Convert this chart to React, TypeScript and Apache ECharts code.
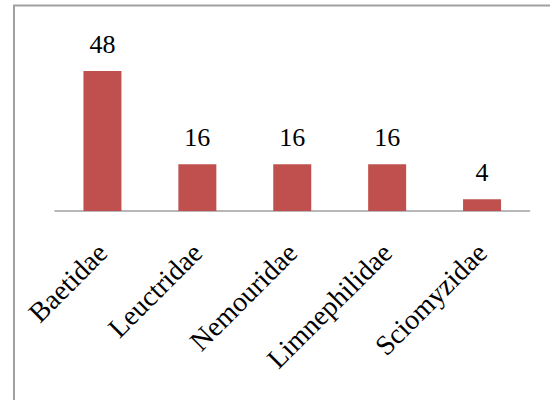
import React, { useEffect, useRef } from "react";
import * as echarts from "echarts";

const categories = ["Baetidae", "Leuctridae", "Nemouridae", "Limnephilidae", "Sciomyzidae"];
const values = [48, 16, 16, 16, 4];

const FONT = "'Times New Roman', 'Liberation Serif', Times, serif";

export default function App() {
  const ref = useRef<HTMLDivElement>(null);
  useEffect(() => {
    if (!ref.current) return;
    const chart = echarts.init(ref.current, null, { renderer: "svg" });
    chart.setOption({
      animation: false,
      backgroundColor: "#ffffff",
      graphic: [
        {
          type: "rect",
          shape: { x: 14, y: 5.5, width: 600, height: 500 },
          style: { fill: "none", stroke: "#a0a0a0", lineWidth: 2 },
          silent: true,
        },
      ],
      grid: { left: 55, right: 20.5, top: 36, bottom: 189, containLabel: false },
      xAxis: {
        type: "category",
        data: categories,
        axisLine: { show: true, lineStyle: { color: "#a0a0a0", width: 1.5 } },
        axisTick: { show: false },
        axisLabel: {
          rotate: 45,
          margin: 37,
          interval: 0,
          fontFamily: FONT,
          fontSize: 28,
          color: "#000000",
        },
      },
      yAxis: { type: "value", min: 0, max: 60, show: false, splitLine: { show: false } },
      series: [
        {
          type: "bar",
          data: values,
          barWidth: 38,
          itemStyle: { color: "#C0504D" },
          label: {
            show: true,
            position: "top",
            distance: 14,
            fontFamily: FONT,
            fontSize: 26,
            color: "#000000",
          },
        },
      ],
    });
    return () => chart.dispose();
  }, []);
  return (
    <div
      ref={ref}
      style={{ position: "absolute", left: 0, top: 0, width: 550, height: 400 }}
    />
  );
}
